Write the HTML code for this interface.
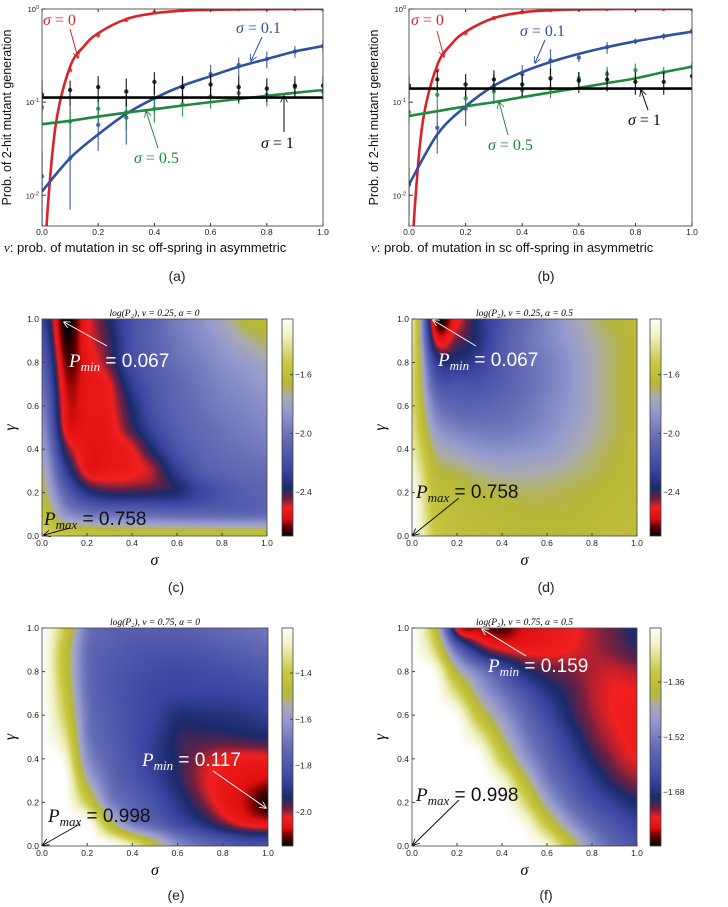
<!DOCTYPE html>
<html><head><meta charset="utf-8">
<style>
html,body{margin:0;padding:0;background:#fff;}
#root{position:relative;width:728px;height:907px;overflow:hidden;font-family:"Liberation Sans",sans-serif;}
canvas{position:absolute;}
svg{position:absolute;left:0;top:0;}
</style></head>
<body>
<div id="root">
<canvas id="hmC" width="225" height="217" style="left:42px;top:319px"></canvas>
<canvas id="hmD" width="225" height="217" style="left:412px;top:319px"></canvas>
<canvas id="hmE" width="226" height="218" style="left:42px;top:628px"></canvas>
<canvas id="hmF" width="225" height="218" style="left:412px;top:628px"></canvas>
<canvas id="cbC" width="11" height="217" style="left:282px;top:319px"></canvas>
<canvas id="cbD" width="11" height="217" style="left:650px;top:319px"></canvas>
<canvas id="cbE" width="11" height="218" style="left:282px;top:628px"></canvas>
<canvas id="cbF" width="11" height="218" style="left:650px;top:628px"></canvas>
<svg id="fig" width="728" height="907"></svg>
</div>
<script>
// ---------- line chart data ----------
const nuPts = [0,0.1,0.2,0.3,0.4,0.5,0.6,0.7,0.8,0.9,1.0];
const nuRed = [0,0.02,0.05,0.1,0.15,0.2,0.3,0.4,0.5,0.6,0.8,1.0];
// panel (a)
const aRedCurve = [0.0005,0.007,0.06,0.24,0.4,0.55,0.78,0.9,0.96,0.98,0.995,1.0];
const aBlueCurve = [0.011,0.025,0.045,0.075,0.11,0.15,0.19,0.24,0.29,0.35,0.4];
const aGreenCurve = [0.058,0.063,0.07,0.077,0.084,0.092,0.1,0.108,0.117,0.126,0.135];
const aBlackCurve = [0.112,0.112,0.112,0.112,0.112,0.112,0.112,0.112,0.112,0.112,0.112];
const aRedPts = [0.002,0.22,0.52,0.76,0.92,0.97,0.99,1,1,1,1];
const aBluePts = [0.016,0.025,0.057,0.068,0.11,0.145,0.2,0.25,0.29,0.35,0.4];
const aBlueLo = [0.004,0.007,0.03,0.035,0.075,0.1,0.15,0.19,0.23,0.3,0.34];
const aBlueHi = [0.03,0.09,0.1,0.12,0.15,0.19,0.25,0.3,0.35,0.4,0.46];
const aGreenPts = [0.088,0.062,0.085,0.078,0.085,0.095,0.115,0.125,0.12,0.145,0.13];
const aGreenLo = [0.06,0.04,0.06,0.05,0.06,0.07,0.085,0.095,0.09,0.11,0.1];
const aGreenHi = [0.12,0.085,0.11,0.1,0.11,0.12,0.145,0.16,0.15,0.17,0.16];
const aBlackPts = [0.12,0.135,0.145,0.13,0.165,0.145,0.155,0.145,0.14,0.15,0.15];
const aBlackLo = [0.08,0.09,0.1,0.09,0.12,0.1,0.11,0.1,0.1,0.11,0.11];
const aBlackHi = [0.17,0.17,0.19,0.18,0.21,0.19,0.2,0.19,0.18,0.19,0.19];
// panel (b)
const bRedCurve = [0.0005,0.007,0.065,0.25,0.42,0.57,0.8,0.92,0.97,0.99,1.0,1.0];
const bBlueCurve = [0.013,0.045,0.09,0.15,0.21,0.27,0.33,0.39,0.45,0.51,0.57];
const bGreenCurve = [0.071,0.08,0.09,0.1,0.113,0.127,0.142,0.16,0.18,0.21,0.24];
const bBlackCurve = [0.14,0.14,0.14,0.14,0.14,0.14,0.14,0.14,0.14,0.14,0.14];
const bRedPts = [0.002,0.22,0.55,0.8,0.92,0.97,0.99,1,1,1,1];
const bBluePts = [0.013,0.053,0.085,0.15,0.2,0.28,0.3,0.39,0.45,0.51,0.58];
const bBlueLo = [0.006,0.028,0.055,0.1,0.15,0.2,0.27,0.33,0.42,0.47,0.52];
const bBlueHi = [0.02,0.09,0.12,0.2,0.25,0.37,0.33,0.44,0.48,0.55,0.64];
const bGreenPts = [0.078,0.12,0.11,0.13,0.135,0.14,0.18,0.2,0.22,0.21,0.24];
const bGreenLo = [0.06,0.09,0.075,0.095,0.11,0.11,0.15,0.16,0.18,0.18,0.21];
const bGreenHi = [0.1,0.15,0.14,0.16,0.17,0.17,0.21,0.24,0.26,0.24,0.27];
const bBlackPts = [0.15,0.175,0.155,0.175,0.155,0.18,0.17,0.175,0.165,0.165,0.19];
const bBlackLo = [0.11,0.13,0.115,0.13,0.115,0.135,0.125,0.13,0.12,0.12,0.15];
const bBlackHi = [0.19,0.22,0.2,0.22,0.2,0.23,0.21,0.22,0.21,0.21,0.24];
const xTicks = [0,0.2,0.4,0.6,0.8,1.0];
const xTickLabels = ["0.0","0.2","0.4","0.6","0.8","1.0"];
const yDecades = [0,-1,-2];

// ---------- heatmap data (normalized level, 0 = colorbar bottom, 1 = top); rows gamma 1.0 -> 0.0, cols sigma 0 -> 1 ----------
const gridC = [
[0.3,0.0,0.12,0.22,0.35,0.42,0.5,0.55,0.62,0.7,0.72],
[0.35,0.02,0.12,0.2,0.35,0.42,0.48,0.53,0.58,0.64,0.68],
[0.4,0.05,0.1,0.18,0.33,0.4,0.46,0.5,0.55,0.58,0.62],
[0.45,0.08,0.1,0.13,0.28,0.38,0.43,0.48,0.52,0.55,0.58],
[0.5,0.1,0.1,0.12,0.23,0.36,0.42,0.46,0.5,0.52,0.55],
[0.55,0.12,0.1,0.11,0.2,0.32,0.4,0.44,0.47,0.5,0.52],
[0.6,0.2,0.1,0.1,0.13,0.24,0.36,0.42,0.45,0.47,0.49],
[0.65,0.3,0.11,0.11,0.12,0.16,0.28,0.38,0.42,0.44,0.45],
[0.7,0.42,0.25,0.2,0.2,0.21,0.23,0.3,0.36,0.4,0.42],
[0.78,0.56,0.48,0.46,0.45,0.44,0.43,0.43,0.43,0.43,0.44],
[0.85,0.8,0.78,0.77,0.76,0.76,0.76,0.76,0.76,0.76,0.76]];
const gridD = [
[0.9,0.05,0.12,0.25,0.36,0.45,0.52,0.6,0.66,0.7,0.72],
[0.88,0.15,0.18,0.25,0.38,0.46,0.52,0.58,0.64,0.68,0.71],
[0.86,0.3,0.25,0.3,0.38,0.45,0.5,0.56,0.63,0.68,0.71],
[0.85,0.4,0.36,0.36,0.4,0.45,0.5,0.56,0.63,0.68,0.71],
[0.85,0.5,0.42,0.42,0.44,0.47,0.52,0.57,0.63,0.68,0.71],
[0.87,0.58,0.5,0.48,0.48,0.5,0.54,0.59,0.64,0.68,0.71],
[0.9,0.66,0.6,0.56,0.55,0.56,0.58,0.62,0.66,0.69,0.72],
[0.95,0.72,0.68,0.65,0.63,0.63,0.64,0.66,0.68,0.7,0.72],
[0.98,0.76,0.72,0.7,0.69,0.68,0.68,0.69,0.7,0.71,0.72],
[1.0,0.78,0.74,0.72,0.71,0.7,0.7,0.7,0.71,0.72,0.73],
[1.0,0.8,0.75,0.73,0.72,0.71,0.71,0.71,0.72,0.73,0.74]];
const gridE = [
[1,0.8,0.48,0.42,0.4,0.4,0.4,0.42,0.44,0.46,0.48],
[1,0.75,0.45,0.4,0.37,0.36,0.36,0.37,0.39,0.41,0.43],
[1,0.75,0.45,0.38,0.35,0.33,0.32,0.33,0.34,0.36,0.38],
[1,0.78,0.46,0.38,0.34,0.31,0.3,0.3,0.3,0.31,0.32],
[1,0.82,0.48,0.39,0.34,0.3,0.24,0.24,0.25,0.26,0.28],
[1,0.88,0.5,0.4,0.34,0.28,0.21,0.2,0.2,0.21,0.22],
[1,0.95,0.55,0.42,0.35,0.27,0.21,0.16,0.13,0.12,0.12],
[1,1,0.65,0.45,0.37,0.3,0.22,0.15,0.11,0.09,0.07],
[1,1,0.8,0.52,0.42,0.35,0.26,0.18,0.11,0.07,0.01],
[1,1,1,0.72,0.5,0.42,0.33,0.26,0.18,0.12,0.1],
[1,1,1,1,0.9,0.72,0.55,0.45,0.4,0.36,0.35]];
const gridF = [
[1,0.75,0.12,0.06,0.03,0.08,0.1,0.12,0.15,0.18,0.23],
[1,0.85,0.45,0.22,0.14,0.12,0.12,0.13,0.15,0.17,0.2],
[1,0.98,0.68,0.5,0.36,0.24,0.19,0.17,0.15,0.14,0.15],
[1,1,0.85,0.62,0.48,0.36,0.26,0.2,0.15,0.13,0.13],
[1,1,0.98,0.75,0.58,0.44,0.32,0.22,0.16,0.13,0.12],
[1,1,1,0.9,0.68,0.5,0.38,0.27,0.18,0.14,0.12],
[1,1,1,1,0.8,0.58,0.43,0.32,0.22,0.16,0.13],
[1,1,1,1,0.95,0.72,0.5,0.38,0.28,0.2,0.16],
[1,1,1,1,1,0.85,0.62,0.45,0.35,0.28,0.22],
[1,1,1,1,1,0.97,0.78,0.58,0.44,0.36,0.3],
[1,1,1,1,1,1,0.95,0.75,0.55,0.42,0.36]];
const cbRangeCD = [-2.70,-1.22];
const cbTicksCD = [-1.6,-2.0,-2.4];
const cbLabelsCD = ["−1.6","−2.0","−2.4"];
const cbRangeE = [-2.147,-1.206];
const cbTicksE = [-1.4,-1.6,-1.8,-2.0];
const cbLabelsE = ["−1.4","−1.6","−1.8","−2.0"];
const cbRangeF = [-1.837,-1.203];
const cbTicksF = [-1.36,-1.52,-1.68];
const cbLabelsF = ["−1.36","−1.52","−1.68"];
const hmTicks = [0,0.2,0.4,0.6,0.8,1.0];

// ---------- colormap ----------
const cmap = [[0,[0,0,0]],[0.04,[96,0,0]],[0.08,[224,16,16]],[0.13,[240,32,32]],[0.17,[112,32,64]],[0.22,[26,42,106]],[0.30,[58,68,160]],[0.45,[100,108,182]],[0.58,[150,156,206]],[0.64,[170,170,176]],[0.70,[184,184,56]],[0.80,[200,200,64]],[0.92,[240,240,192]],[1.0,[255,255,255]]];
function cm(t){t=Math.max(0,Math.min(1,t));for(let i=1;i<cmap.length;i++){if(t<=cmap[i][0]){const a=cmap[i-1],b=cmap[i];const f=(t-a[0])/(b[0]-a[0]);return a[1].map((v,k)=>Math.round(v+(b[1][k]-v)*f));}}return cmap[cmap.length-1][1];}
function cr(p0,p1,p2,p3,t){return p1+0.5*t*(p2-p0+t*(2*p0-5*p1+4*p2-p3+t*(3*(p1-p2)+p3-p0)));}
function drawHeat(id,grid){
  const c=document.getElementById(id),ctx=c.getContext('2d'),W=c.width,H=c.height;
  const img=ctx.createImageData(W,H);const R=grid.length-1,C=grid[0].length-1;
  const g=(r,cc)=>grid[Math.max(0,Math.min(R,r))][Math.max(0,Math.min(C,cc))];
  for(let y=0;y<H;y++){const gy=y/(H-1)*R;const r0=Math.min(Math.floor(gy),R-1),fy=gy-r0;
    for(let x=0;x<W;x++){const gx=x/(W-1)*C;const c0=Math.min(Math.floor(gx),C-1),fx=gx-c0;
      const rows=[];for(let k=-1;k<=2;k++){rows.push(cr(g(r0+k,c0-1),g(r0+k,c0),g(r0+k,c0+1),g(r0+k,c0+2),fx));}
      const v=cr(rows[0],rows[1],rows[2],rows[3],fy);
      const col=cm(v);const p=(y*W+x)*4;img.data[p]=col[0];img.data[p+1]=col[1];img.data[p+2]=col[2];img.data[p+3]=255;}}
  ctx.putImageData(img,0,0);
}
function drawBar(id){const c=document.getElementById(id),ctx=c.getContext('2d');for(let y=0;y<c.height;y++){const col=cm(1-y/(c.height-1));ctx.fillStyle=`rgb(${col})`;ctx.fillRect(0,y,c.width,1);}}
drawHeat('hmC',gridC);drawHeat('hmD',gridD);drawHeat('hmE',gridE);drawHeat('hmF',gridF);
['cbC','cbD','cbE','cbF'].forEach(drawBar);

// ---------- SVG ----------
const NS='http://www.w3.org/2000/svg';const svg=document.getElementById('fig');
function el(tag,attrs,parent,txt){const e=document.createElementNS(NS,tag);for(const k in attrs)e.setAttribute(k,attrs[k]);if(txt!==undefined)e.textContent=txt;(parent||svg).appendChild(e);return e;}
let defs=el('defs',{});
['#d62728','#2a4a9a','#1a7a3a','#000','#fff'].forEach((c,i)=>{const m=el('marker',{id:'ar'+i,viewBox:'0 0 10 10',refX:'9',refY:'5',markerWidth:'7',markerHeight:'7',orient:'auto-start-reverse'},defs);el('path',{d:'M0,0 L10,5 L0,10',fill:'none',stroke:c,'stroke-width':'1.2'},m);});
function arrow(x1,y1,x2,y2,ci,c,name){const a=el('line',{x1,y1,x2,y2,stroke:c,'stroke-width':1,'marker-end':'url(#ar'+ci+')'});}
function smooth(pts){let d='M'+pts[0][0]+','+pts[0][1];for(let i=0;i<pts.length-1;i++){const p0=pts[Math.max(0,i-1)],p1=pts[i],p2=pts[i+1],p3=pts[Math.min(pts.length-1,i+2)];const c1=[p1[0]+(p2[0]-p0[0])/6,p1[1]+(p2[1]-p0[1])/6],c2=[p2[0]-(p3[0]-p1[0])/6,p2[1]-(p3[1]-p1[1])/6];d+=` C${c1[0]},${c1[1]} ${c2[0]},${c2[1]} ${p2[0]},${p2[1]}`;}return d;}

function linePanel(key,X0,X1,Y0,Y1,d){
  const g=el('g',{});
  const dec=(Y1-Y0)/2.33;
  const xs=v=>X0+v*(X1-X0), ys=v=>Y0+(-Math.log10(v))*dec;
  const cp=el('clipPath',{id:'clip'+key},defs);el('rect',{x:X0,y:Y0,width:X1-X0,height:Y1-Y0},cp);
  const pg=el('g',{'clip-path':'url(#clip'+key+')'},g);
  const series=[['red','#d8232a',nuRed,d.redC,d.redP,null,null,0],['blue','#2f4f9f',nuPts,d.blueC,d.blueP,d.blueLo,d.blueHi,1],['green','#1e8a3e',nuPts,d.greenC,d.greenP,d.greenLo,d.greenHi,2],['black','#000',nuPts,d.blackC,d.blackP,d.blackLo,d.blackHi,3]];
  series.forEach(s=>{
    const col=s[1];
    s[4].forEach((v,i)=>{const x=xs(nuPts[i]);
      if(s[5]){const e=el('line',{x1:x,x2:x,y1:ys(s[5][i]),y2:ys(s[6][i]),stroke:col,'stroke-width':1.2,opacity:0.85},pg);}
      const p=el('circle',{cx:x,cy:ys(v),r:2.2,fill:col,opacity:0.8},pg);});
    const pts=s[3].map((v,i)=>[xs(s[2][i]),ys(v)]);
    const path=el('path',{d:smooth(pts),fill:'none',stroke:col,'stroke-width':2.6},pg);
  });
  const fr=el('rect',{x:X0,y:Y0,width:X1-X0,height:Y1-Y0,fill:'none',stroke:'#333','stroke-width':0.8},g);
  xTicks.forEach((t,i)=>{const x=xs(t);el('line',{x1:x,x2:x,y1:Y1,y2:Y1-3,stroke:'#333'},g);el('line',{x1:x,x2:x,y1:Y0,y2:Y0+3,stroke:'#333'},g);const tl=el('text',{x:x,y:Y1+9,'font-size':8.5,'text-anchor':'middle',fill:'#222'},g,xTickLabels[i]);});
  yDecades.forEach(p=>{const y=ys(Math.pow(10,p));el('line',{x1:X0,x2:X0+4,y1:y,y2:y,stroke:'#333'},g);const t=el('text',{x:X0-3,y:y+3,'font-size':7.5,'text-anchor':'end',fill:'#222'},g,'10');el('tspan',{dy:-3,'font-size':5.5},t,p===0?'0':'-'+Math.abs(p));});
  const yl=el('text',{transform:`translate(${X0-31},${(Y0+Y1)/2}) rotate(-90)`,'font-size':12.5,'text-anchor':'middle',fill:'#111'},g,'Prob. of 2-hit mutant generation');
  const xl=el('text',{x:X0-38,y:Y1+26,'font-size':13,fill:'#111'},g);
  el('tspan',{'font-family':'Liberation Serif, serif','font-style':'italic'},xl,'ν');el('tspan',{},xl,': prob. of mutation in sc off-spring in asymmetric');
}
linePanel('a',42,323,9,226,{redC:aRedCurve,redP:aRedPts,blueC:aBlueCurve,blueP:aBluePts,blueLo:aBlueLo,blueHi:aBlueHi,greenC:aGreenCurve,greenP:aGreenPts,greenLo:aGreenLo,greenHi:aGreenHi,blackC:aBlackCurve,blackP:aBlackPts,blackLo:aBlackLo,blackHi:aBlackHi});
linePanel('b',409,692,9,226,{redC:bRedCurve,redP:bRedPts,blueC:bBlueCurve,blueP:bBluePts,blueLo:bBlueLo,blueHi:bBlueHi,greenC:bGreenCurve,greenP:bGreenPts,greenLo:bGreenLo,greenHi:bGreenHi,blackC:bBlackCurve,blackP:bBlackPts,blackLo:bBlackLo,blackHi:bBlackHi});

function sig(x,y,txt,col,name){const t=el('text',{x,y,'font-size':16,fill:col,'font-family':'Liberation Serif, serif'});el('tspan',{'font-style':'italic'},t,'σ');el('tspan',{},t,' = '+txt);}
sig(43,25,'0','#d8232a','label-sigma-0-a');arrow(70,29,78,58,0,'#d8232a','arrow-sigma-0-a');
sig(236,33,'0.1','#2f4f9f','label-sigma-01-a');arrow(262,37,251,61,1,'#2f4f9f','arrow-sigma-01-a');
sig(261,148,'1','#000','label-sigma-1-a');arrow(284,132,284,96,3,'#000','arrow-sigma-1-a');
sig(134,163,'0.5','#1e8a3e','label-sigma-05-a');arrow(158,148,146,111,2,'#1e8a3e','arrow-sigma-05-a');
sig(411,25,'0','#d8232a','label-sigma-0-b');arrow(437,31,444,57,0,'#d8232a','arrow-sigma-0-b');
sig(520,36,'0.1','#2f4f9f','label-sigma-01-b');arrow(545,40,535,63,1,'#2f4f9f','arrow-sigma-01-b');
sig(628,125,'1','#000','label-sigma-1-b');arrow(648,110,641,90,3,'#000','arrow-sigma-1-b');
sig(488,150,'0.5','#1e8a3e','label-sigma-05-b');arrow(508,135,499,102,2,'#1e8a3e','arrow-sigma-05-b');

function heatPanel(key,X0,X1,Y0,Y1,CBX,range,ticks,labels,title){
  const g=el('g',{});
  const xs=v=>X0+v*(X1-X0), ys=v=>Y1-v*(Y1-Y0);
  el('rect',{x:X0,y:Y0,width:X1-X0,height:Y1-Y0,fill:'none',stroke:'#444','stroke-width':0.8},g);
  hmTicks.forEach(t=>{const a=el('text',{x:xs(t),y:Y1+10,'font-size':8.5,'text-anchor':'middle',fill:'#222'},g,t.toFixed(1));
    const b=el('text',{x:X0-3,y:ys(t)+3,'font-size':8.5,'text-anchor':'end',fill:'#222'},g,t.toFixed(1));
    el('line',{x1:xs(t),x2:xs(t),y1:Y1,y2:Y1-3,stroke:'#444'},g);el('line',{x1:X0,x2:X0+3,y1:ys(t),y2:ys(t),stroke:'#444'},g);});
  const xt=el('text',{x:(X0+X1)/2,y:Y1+29,'font-size':16,'text-anchor':'middle','font-style':'italic','font-family':'Liberation Serif, serif'},g,'σ');
  const yt=el('text',{transform:`translate(${X0-27},${(Y0+Y1)/2}) rotate(-90)`,'font-size':16,'text-anchor':'middle','font-style':'italic','font-family':'Liberation Serif, serif'},g,'γ');
  const tt=el('text',{x:(X0+X1)/2,y:Y0-3,'font-size':9.5,'text-anchor':'middle','font-family':'Liberation Serif, serif','font-style':'italic'},g,title);
  el('rect',{x:CBX,y:Y0,width:11,height:Y1-Y0,fill:'none',stroke:'#444','stroke-width':0.8},g);
  ticks.forEach((v,i)=>{const y=Y1-(v-range[0])/(range[1]-range[0])*(Y1-Y0);el('line',{x1:CBX+8,x2:CBX+11,y1:y,y2:y,stroke:'#444'},g);const t=el('text',{x:CBX+13,y:y+3,'font-size':8.5,fill:'#222'},g,labels[i]);});
}
heatPanel('c',42,267,319,536,282,cbRangeCD,cbTicksCD,cbLabelsCD,'log(P₂),  ν = 0.25, α = 0');
heatPanel('d',412,637,319,536,650,cbRangeCD,cbTicksCD,cbLabelsCD,'log(P₂),  ν = 0.25, α = 0.5');
heatPanel('e',42,268,628,846,282,cbRangeE,cbTicksE,cbLabelsE,'log(P₂),  ν = 0.75, α = 0');
heatPanel('f',412,637,628,846,650,cbRangeF,cbTicksF,cbLabelsF,'log(P₂),  ν = 0.75, α = 0.5');

function pann(x,y,sub,val,col,name){const t=el('text',{x,y,'font-size':19,fill:col});el('tspan',{'font-family':'Liberation Serif, serif','font-style':'italic'},t,'P');el('tspan',{'font-family':'Liberation Serif, serif','font-style':'italic','font-size':13,dy:4},t,sub);el('tspan',{dy:-4},t,' = '+val);}
pann(69,367,'min','0.067','#fff','pmin-label-c');arrow(107,346,64,322,4,'#fff','pmin-arrow-c');
pann(44,525,'max','0.758','#111','pmax-label-c');arrow(70,528,44,535,3,'#111','pmax-arrow-c');
pann(438,366,'min','0.067','#fff','pmin-label-d');arrow(476,346,433,320,4,'#fff','pmin-arrow-d');
pann(416,498,'max','0.758','#111','pmax-label-d');arrow(459,498,413,535,3,'#111','pmax-arrow-d');
pann(142,766,'min','0.117','#fff','pmin-label-e');arrow(213,771,266,808,4,'#fff','pmin-arrow-e');
pann(48,822,'max','0.998','#111','pmax-label-e');arrow(80,824,43,845,3,'#111','pmax-arrow-e');
pann(488,672,'min','0.159','#fff','pmin-label-f');arrow(526,656,482,629,4,'#fff','pmin-arrow-f');
pann(416,801,'max','0.998','#111','pmax-label-f');arrow(459,800,413,845,3,'#111','pmax-arrow-f');

[['(a)',177,281],['(b)',546,281],['(c)',176,592],['(d)',546,592],['(e)',176,900],['(f)',546,900]].forEach(p=>{const t=el('text',{x:p[1],y:p[2],'font-size':14,'text-anchor':'middle',fill:'#222'},svg,p[0]);});
</script>
</body></html>
